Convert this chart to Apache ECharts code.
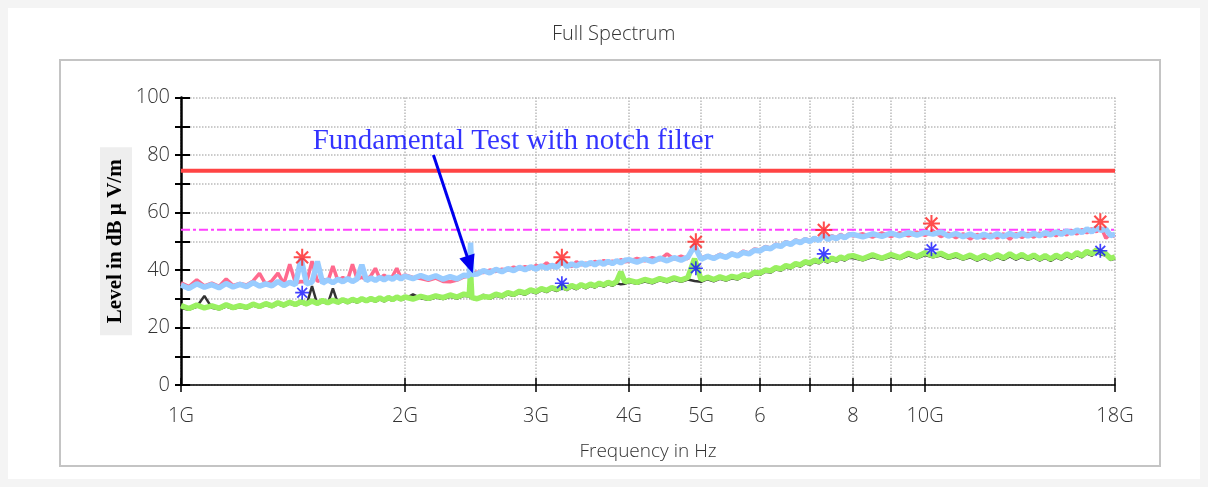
<!DOCTYPE html>
<html><head><meta charset="utf-8">
<script src="https://cdn.jsdelivr.net/npm/echarts@6/dist/echarts.min.js"></script>
<style>html,body{margin:0;padding:0;background:#f4f4f4;}#c{width:1208px;height:487px;}</style>
</head><body><div id="c"></div>
<script>
// Frequency grid in GHz
const freqGHz = [
1,1.025,1.05,1.075,1.1,1.125,1.15,1.175,1.2,1.225,1.25,1.275,1.3,1.325,1.35,1.375,1.4,1.425,1.45,1.475,1.5,1.525,1.55,1.575,1.6,1.625,1.65,1.675,1.7,1.725,1.75,1.775,1.8,1.825,1.85,1.875,1.9,1.925,1.95,1.975,
2,2.05,2.1,2.15,2.2,2.25,2.3,2.35,2.4,2.44,2.45,2.46,2.5,2.55,2.6,2.65,2.7,2.75,2.8,2.85,2.9,2.95,3,3.05,3.1,3.15,3.2,3.25,3.3,3.35,3.4,3.45,3.5,3.55,3.6,3.65,3.7,3.75,3.8,3.85,3.9,3.95,
4,4.1,4.2,4.3,4.4,4.5,4.6,4.7,4.8,4.9,5,5.1,5.2,5.3,5.4,5.5,5.6,5.7,5.8,5.9,6,6.1,6.2,6.3,6.4,6.5,6.6,6.7,6.8,6.9,7,7.1,7.2,7.3,7.4,7.5,7.6,7.7,7.8,7.9,
8,8.25,8.5,8.75,9,9.25,9.5,9.75,10,10.25,10.5,10.75,11,11.25,11.5,11.75,12,12.25,12.5,12.75,13,13.25,13.5,13.75,14,14.25,14.5,14.75,15,15.25,15.5,15.75,16,16.25,16.5,16.75,17,17.25,17.5,17.75,18];
// Peak trace (pink)
const peakPink = [
35.5,34.2,36.6,34.5,35.4,34.3,36.9,34.6,35.3,34.8,36.2,38.8,35.0,36.3,38.9,35.2,42.0,35.5,36.0,35.8,43.1,36.0,36.9,35.9,41.4,36.3,37.4,36.5,42.0,36.8,37.5,36.6,38.0,40.6,37.0,38.2,37.1,37.9,40.6,37.3,
38.3,37.4,37.0,36.4,37.2,36.0,35.9,36.5,37.6,37.9,38.9,38.6,39.2,39.1,40.0,39.5,40.3,39.9,41.0,40.4,41.2,40.5,41.6,40.9,42.5,41.0,42.0,43.5,41.9,41.2,42.9,41.8,42.4,41.9,43.0,42.2,43.3,42.4,43.1,42.7,43.6,42.9,
43.0,44.0,43.2,44.3,43.5,45.6,43.8,44.8,43.9,49.0,44.2,45.0,44.3,45.5,44.6,45.9,45.2,46.6,45.9,47.3,47.0,48.2,47.6,49.0,48.4,49.9,49.2,50.5,49.8,50.9,50.2,51.3,50.6,52.5,51.0,51.9,51.2,52.4,51.5,52.6,
51.8,52.6,51.4,52.9,51.6,53.0,51.9,53.2,52.0,53.6,51.6,52.8,51.2,52.6,50.8,52.4,51.0,52.5,51.1,52.6,50.7,52.7,51.3,52.8,51.4,52.9,51.6,53.2,51.9,53.4,52.2,53.8,52.5,54.1,52.9,54.4,53.3,54.8,51.0,52.6,51.5];
// Peak trace (light blue)
const peakBlue = [
34.8,33.6,35.2,34.0,34.9,33.8,35.3,34.1,35.0,34.2,35.6,34.4,35.2,34.5,36.0,34.6,35.7,34.9,44.0,35.2,35.8,43.0,35.4,36.6,35.6,36.8,35.9,37.0,36.0,36.9,41.8,36.3,37.2,36.4,37.4,36.6,37.5,36.8,37.8,36.9,
37.9,37.0,38.1,37.1,38.0,36.8,37.7,36.9,38.2,38.0,49.5,38.4,38.6,39.8,39.0,40.2,39.4,40.5,39.8,40.9,40.1,41.1,40.3,41.4,40.6,41.6,40.9,43.0,41.2,42.1,41.4,42.4,41.7,42.6,41.8,42.8,42.0,43.0,42.2,43.2,42.5,43.4,
43.6,42.7,43.8,42.9,44.1,43.2,44.3,43.4,44.5,48.4,43.7,44.8,44.0,45.1,44.4,45.6,44.9,46.1,45.6,46.9,46.6,47.8,47.4,48.6,48.2,49.5,48.9,50.1,49.5,50.6,49.9,51.0,50.3,52.0,50.6,51.5,50.9,51.9,51.2,52.2,
52.4,51.5,52.6,51.7,52.8,51.9,53.0,52.1,53.1,52.5,53.2,51.8,52.7,51.6,52.5,51.4,52.4,51.5,52.6,51.6,52.7,51.7,52.8,51.8,52.8,51.9,53.0,52.2,53.3,52.4,53.6,52.8,53.9,53.0,54.3,53.3,54.6,53.8,54.2,52.0,52.4];
// Average trace (green)
const avgGreen = [
27.6,26.6,27.8,26.8,27.5,26.7,27.9,26.9,27.6,27.0,28.1,27.3,28.3,27.5,28.6,27.8,28.8,28.0,29.0,28.2,29.2,28.4,29.4,28.6,29.5,28.8,29.7,28.9,29.8,29.1,30.0,29.3,30.1,29.4,30.3,29.5,30.4,29.7,30.6,29.9,
30.6,29.9,30.8,30.1,31.0,30.4,31.3,30.6,31.6,31.2,39.6,30.4,30.0,30.8,30.5,31.6,31.0,32.1,31.5,32.6,32.0,33.1,32.5,33.5,32.9,33.9,33.3,34.3,33.6,34.6,33.9,34.9,34.2,35.1,34.5,35.4,34.8,35.7,35.1,36.0,39.4,35.8,
36.4,35.7,36.7,36.0,37.0,36.3,37.3,36.5,37.4,43.9,36.6,37.5,36.7,37.6,36.9,37.8,37.3,38.4,38.0,39.2,38.9,40.0,39.7,40.8,40.4,41.5,41.1,42.2,41.8,42.9,42.4,43.4,42.9,43.9,43.2,44.1,43.5,44.5,43.9,44.8,
45.0,43.9,45.3,44.1,45.4,44.3,45.8,44.6,46.0,44.9,45.8,44.5,45.4,44.2,45.2,43.9,45.1,44.0,45.3,44.2,45.6,44.3,45.4,44.1,45.2,43.9,45.0,43.8,45.1,44.2,45.6,44.6,46.0,45.0,46.5,45.6,47.0,46.1,45.6,44.0,44.6];
// Average trace (dark grey)
const avgGrey = [
26.8,26.2,27.2,31.0,26.9,26.3,27.3,26.5,27.1,26.6,27.6,26.9,27.8,27.1,28.1,27.4,28.3,27.6,28.5,27.8,34.4,28.0,28.9,28.2,33.6,28.4,29.2,28.5,29.3,28.7,29.5,28.9,29.6,29.0,29.8,29.1,29.9,29.3,30.1,29.5,
30.0,31.5,30.2,29.6,30.4,29.9,30.7,30.1,31.0,30.8,31.2,30.1,29.6,31.4,30.0,31.0,30.5,31.5,31.0,32.0,31.4,32.5,31.9,32.9,32.3,33.3,32.7,33.7,33.0,34.0,33.3,34.3,33.6,34.5,33.9,34.8,34.2,35.1,34.5,35.4,35.0,35.2,
35.8,35.2,36.0,35.4,36.4,35.7,36.6,35.9,36.7,36.2,35.9,36.8,36.1,36.9,36.3,37.1,36.7,37.8,37.4,38.6,38.3,39.4,39.1,40.2,39.8,40.9,40.5,41.6,41.2,42.3,41.8,42.8,42.3,43.3,42.6,43.5,42.9,43.9,43.3,44.2,
44.2,43.4,44.5,43.6,44.6,43.8,45.0,44.1,45.2,44.4,45.0,43.9,44.6,43.6,44.4,43.3,44.3,43.4,44.5,43.5,44.7,43.6,44.6,43.5,44.4,43.3,44.2,43.2,44.3,43.6,44.8,44.0,45.2,44.4,45.7,45.0,46.2,45.4,45.0,43.5,44.0];
// Limit lines
const limitFreq = [1, 18];
const peakLimit = [74.5, 74.5];
const avgLimit = [54, 54];
// Final measurement markers
const markerFreq = [1.455, 3.25, 4.92, 7.31, 10.2, 17.2];
const peakMarkers = [44.4, 44.4, 49.8, 53.9, 56.2, 56.8];
const avgMarkers = [32.1, 35.4, 40.6, 45.6, 47.2, 46.7];
// Annotation
const noteText = 'Fundamental Test with notch filter';
const notePos = [2.794, 84.6];
const arrowFrom = [2.184, 80.0];
const arrowTo = [2.466, 38.9];
// Axis ticks
const xLabelValues = [1, 2, 3, 4, 5, 6, 8, 10, 18];
const xLabelTexts = ['1G', '2G', '3G', '4G', '5G', '6', '8', '10G', '18G'];
const xTickValues = [1, 2, 3, 4, 5, 6, 7, 8, 9, 10, 18];

const pair = (xs, ys) => xs.map((x, i) => [x, ys[i]]);
const labelFor = v => {
  const i = xLabelValues.findIndex(t => Math.abs(t - v) < 0.01);
  return i >= 0 ? xLabelTexts[i] : '';
};
const FONT = 'Open Sans';
const ASTER = 'path://M44 0L56 0L56 100L44 100ZM0 44L100 44L100 56L0 56ZM19.55 10.6L89.4 80.45L80.45 89.4L10.6 19.55ZM80.45 10.6L89.4 19.55L19.55 89.4L10.6 80.45Z';

const chart = echarts.init(document.getElementById('c'));
const tickStyle = {color: '#000', width: 1.5};
chart.setOption({
  backgroundColor: '#f4f4f4',
  animation: false,
  title: {text: 'Full Spectrum', left: 547, top: 19,
    textStyle: {fontFamily: FONT, fontWeight: 300, fontSize: 20, color: '#333'}},
  graphic: [
    {id: 'card', type: 'rect', silent: true, z: -10, shape: {x: 8, y: 8, width: 1192, height: 471}, style: {fill: '#ffffff'}},
    {id: 'frame', type: 'rect', silent: true, z: -9, shape: {x: 60, y: 60, width: 1100, height: 406}, style: {fill: 'none', stroke: '#c4c4c4', lineWidth: 2}}
  ],
  grid: {left: 181, right: 93, top: 97.5, bottom: 102},
  xAxis: [{
    type: 'log', logBase: 10, min: 1, max: 18,
    name: 'Frequency in Hz', nameLocation: 'middle', nameGap: 57,
    nameTextStyle: {fontFamily: FONT, fontWeight: 300, fontSize: 19, color: '#333'},
    axisLine: {show: true, onZero: false, lineStyle: {color: '#000', width: 1.5}},
    axisTick: {show: true, length: 7, customValues: xTickValues, lineStyle: tickStyle},
    axisLabel: {customValues: xLabelValues, formatter: labelFor, margin: 21,
      fontFamily: FONT, fontWeight: 300, fontSize: 20, color: '#333'},
    splitLine: {show: true, lineStyle: {type: 'dotted', color: '#bbb', width: 1.5}},
    minorTick: {show: false}, minorSplitLine: {show: false}
  }, {
    type: 'log', logBase: 10, min: 1, max: 18, position: 'bottom',
    axisLine: {show: false},
    axisTick: {show: true, inside: true, length: 7, customValues: xTickValues, lineStyle: tickStyle},
    axisLabel: {show: false}, splitLine: {show: false}
  }],
  yAxis: [{
    type: 'value', min: 0, max: 100, interval: 10, position: 'left',
    name: 'Level in dB µ V/m', nameLocation: 'middle', nameGap: 49, nameRotate: 90, nameMoveOverlap: false,
    nameTextStyle: {fontFamily: 'Liberation Serif', fontWeight: 'bold', fontSize: 21, lineHeight: 22, color: '#000',
      backgroundColor: '#eeeeee', padding: [5, 12, 5, 12]},
    axisLine: {show: true, lineStyle: {color: '#000', width: 2.5}},
    axisTick: {show: true, length: 6, lineStyle: {color: '#000', width: 2}},
    axisLabel: {formatter: v => (v % 20 === 0 ? String(v) : ''), margin: 11,
      fontFamily: FONT, fontWeight: 300, fontSize: 20, color: '#333'},
    splitLine: {show: true, lineStyle: {type: 'dotted', color: '#bbb', width: 1.5}}
  }, {
    type: 'value', min: 0, max: 100, interval: 10, position: 'left',
    axisLine: {show: false},
    axisTick: {show: true, inside: true, length: 9, lineStyle: {color: '#000', width: 2}},
    axisLabel: {show: false}, splitLine: {show: false}
  }],
  series: [
    {name: 'Peak limit', type: 'line', data: pair(limitFreq, peakLimit), showSymbol: false, silent: true,
      lineStyle: {color: '#ff4444', width: 4}, z: 3},
    {name: 'Average limit', type: 'line', data: pair(limitFreq, avgLimit), showSymbol: false, silent: true,
      lineStyle: {color: '#ff40ff', width: 2, type: [9, 3, 3, 3]}, z: 3},
    {name: 'Average H', type: 'line', data: pair(freqGHz, avgGrey), showSymbol: false, silent: true,
      lineStyle: {color: '#333333', width: 2.5}, z: 4},
    {name: 'Average V', type: 'line', data: pair(freqGHz, avgGreen), showSymbol: false, silent: true,
      lineStyle: {color: '#99f060', width: 5.5}, z: 5},
    {name: 'Peak H', type: 'line', data: pair(freqGHz, peakPink), showSymbol: false, silent: true,
      lineStyle: {color: '#ff6a8e', width: 3.5}, z: 4},
    {name: 'Peak V', type: 'line', data: pair(freqGHz, peakBlue), showSymbol: false, silent: true,
      lineStyle: {color: '#99ccff', width: 5.5}, z: 5},
    {name: 'Peak markers', type: 'scatter', data: pair(markerFreq, peakMarkers), symbol: ASTER, symbolSize: 17,
      itemStyle: {color: '#ff2020'}, z: 8},
    {name: 'Average markers', type: 'scatter', data: pair(markerFreq, avgMarkers), symbol: ASTER, symbolSize: 14,
      itemStyle: {color: '#1010ff'}, z: 8},
    {name: 'Note', type: 'scatter', data: [notePos], symbolSize: 0, z: 9, silent: true,
      label: {show: true, position: 'inside', formatter: noteText, fontFamily: 'Liberation Serif', fontSize: 29, color: '#0000ff'}}
  ]
});

// Arrow from the note to the notch spike, positioned through the chart's own axes
const p0 = chart.convertToPixel({gridIndex: 0}, arrowFrom);
const p1 = chart.convertToPixel({gridIndex: 0}, arrowTo);
const dx = p1[0] - p0[0], dy = p1[1] - p0[1];
const len = Math.hypot(dx, dy), ux = dx / len, uy = dy / len;
const headLen = 18, headHalf = 8;
const bx = p1[0] - ux * headLen, by = p1[1] - uy * headLen;
chart.setOption({
  graphic: [
    {id: 'arrowLine', type: 'line', silent: true, z: 100,
      shape: {x1: p0[0], y1: p0[1], x2: bx + ux * 2, y2: by + uy * 2},
      style: {stroke: '#0000ee', lineWidth: 3}},
    {id: 'arrowHead', type: 'polygon', silent: true, z: 100,
      shape: {points: [[p1[0], p1[1]], [bx - uy * headHalf, by + ux * headHalf], [bx + uy * headHalf, by - ux * headHalf]]},
      style: {fill: '#0000ee'}}
  ]
});
</script></body></html>
